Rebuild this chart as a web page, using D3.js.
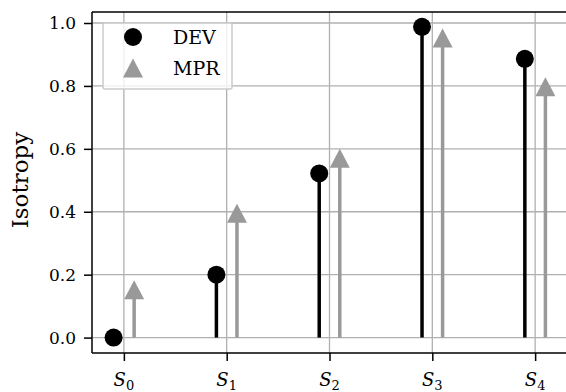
<!DOCTYPE html>
<html>
<head>
<meta charset="utf-8">
<script src="https://cdn.jsdelivr.net/npm/d3@7"></script>
<style>
  body { margin: 0; background: #fff; }
  text { font-family: "DejaVu Serif", serif; }
</style>
</head>
<body>
<script>
var categories = ['0', '1', '2', '3', '4'];
var dev = [0.0, 0.2, 0.522, 0.988, 0.886];
var mpr = [0.152, 0.395, 0.57, 0.952, 0.797];
var yTicks = [0.0, 0.2, 0.4, 0.6, 0.8, 1.0];

var w = 566, h = 392;
var pLeft = 92, pRight = 567, pTop = 12, pBottom = 353;
var off = 0.1;

var svg = d3.select('body').append('svg')
  .attr('width', w)
  .attr('height', h);

var x = d3.scaleLinear().domain([-0.31, 4.31]).range([pLeft, pRight]);
var y = d3.scaleLinear().domain([-0.049, 1.035]).range([pBottom, pTop]);

// grid
var grid = svg.append('g');
grid.selectAll('line.gx')
  .data(categories)
  .enter()
  .append('line')
  .attr('x1', function (d, i) { return x(i); })
  .attr('x2', function (d, i) { return x(i); })
  .attr('y1', pTop).attr('y2', pBottom)
  .attr('stroke', '#b0b0b0').attr('stroke-width', 1.3);
grid.selectAll('line.gy')
  .data(yTicks)
  .enter()
  .append('line')
  .attr('x1', pLeft).attr('x2', pRight)
  .attr('y1', function (d) { return y(d); })
  .attr('y2', function (d) { return y(d); })
  .attr('stroke', '#b0b0b0').attr('stroke-width', 1.3);

// DEV stems + circles
svg.selectAll('line.dev')
  .data(dev)
  .enter()
  .append('line')
  .attr('x1', function (d, i) { return x(i - off); })
  .attr('x2', function (d, i) { return x(i - off); })
  .attr('y1', y(0))
  .attr('y2', function (d) { return y(d); })
  .attr('stroke', '#000').attr('stroke-width', 3.5);
svg.selectAll('circle.dev')
  .data(dev)
  .enter()
  .append('circle')
  .attr('cx', function (d, i) { return x(i - off); })
  .attr('cy', function (d) { return y(d); })
  .attr('r', 9)
  .attr('fill', '#000');

// MPR stems + triangles
svg.selectAll('line.mpr')
  .data(mpr)
  .enter()
  .append('line')
  .attr('x1', function (d, i) { return x(i + off); })
  .attr('x2', function (d, i) { return x(i + off); })
  .attr('y1', y(0))
  .attr('y2', function (d) { return y(d); })
  .attr('stroke', '#999999').attr('stroke-width', 3.5);
svg.selectAll('path.mpr')
  .data(mpr)
  .enter()
  .append('path')
  .attr('d', 'M0,-9.5L10,9.5L-10,9.5Z')
  .attr('transform', function (d, i) { return 'translate(' + x(i + off) + ',' + y(d) + ')'; })
  .attr('fill', '#999999');

// axes
var yAxis = d3.axisLeft(y).tickValues(yTicks).tickSize(8).tickPadding(8)
  .tickFormat(d3.format('.1f'));
var gy = svg.append('g').attr('transform', 'translate(' + pLeft + ',0)').call(yAxis);
gy.select('.domain').remove();
gy.selectAll('line').attr('stroke-width', 1.5);
gy.selectAll('text').style('font-size', '17px').style('font-family', '"DejaVu Serif", serif').attr('fill', '#000');

var xAxis = d3.axisBottom(x).tickValues(d3.range(categories.length)).tickSize(8).tickFormat('');
var gx = svg.append('g').attr('transform', 'translate(0,' + pBottom + ')').call(xAxis);
gx.select('.domain').remove();
gx.selectAll('line').attr('stroke-width', 1.5);

var xl = svg.selectAll('text.xl')
  .data(categories)
  .enter()
  .append('text')
  .attr('class', 'xl')
  .attr('x', function (d, i) { return x(i); })
  .attr('y', 386)
  .attr('text-anchor', 'middle')
  .style('font-size', '18px');
xl.append('tspan').text('S').style('font-style', 'italic');
xl.append('tspan').text(function (d) { return d; }).attr('dy', 4).style('font-size', '13px');

// spines
svg.append('line').attr('x1', pLeft).attr('x2', pLeft).attr('y1', pTop).attr('y2', pBottom)
  .attr('stroke', '#000').attr('stroke-width', 1.5);
svg.append('line').attr('x1', pLeft).attr('x2', pRight).attr('y1', pBottom).attr('y2', pBottom)
  .attr('stroke', '#000').attr('stroke-width', 1.5);
svg.append('line').attr('x1', pLeft).attr('x2', pRight).attr('y1', pTop).attr('y2', pTop)
  .attr('stroke', '#000').attr('stroke-width', 1.5);

// y label
svg.append('text')
  .attr('transform', 'translate(28,' + 180 + ') rotate(-90)')
  .attr('text-anchor', 'middle')
  .style('font-size', '23px')
  .text('Isotropy');

// legend
var lg = svg.append('g');
lg.append('rect')
  .attr('x', 103).attr('y', 23).attr('width', 129).attr('height', 66).attr('rx', 2)
  .attr('fill', '#fff').attr('fill-opacity', 0.8)
  .attr('stroke', '#cccccc').attr('stroke-width', 1.5);
lg.append('circle').attr('cx', 133).attr('cy', 37).attr('r', 9).attr('fill', '#000');
lg.append('path').attr('d', 'M0,-9.5L10,9.5L-10,9.5Z')
  .attr('transform', 'translate(133,68)').attr('fill', '#999999');
lg.append('text').attr('x', 173).attr('y', 44).style('font-size', '19px').text('DEV');
lg.append('text').attr('x', 173).attr('y', 75).style('font-size', '19px').text('MPR');
</script>
</body>
</html>
